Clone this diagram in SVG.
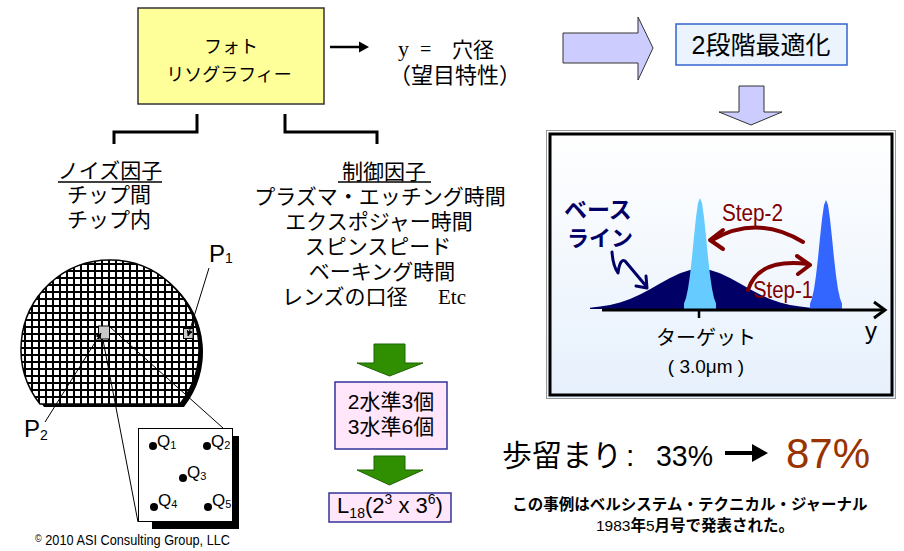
<svg xmlns="http://www.w3.org/2000/svg" width="904" height="551" viewBox="0 0 904 551">
  <style>
    .jp { font-family: "Liberation Sans", "Noto Sans CJK JP", sans-serif; fill: #000; }
    .nar { font-family: "Liberation Sans Narrow", "Liberation Sans", "Noto Sans CJK JP", sans-serif; fill: #000; }
    .ser { font-family: "Liberation Serif", "Noto Sans CJK JP", serif; fill: #000; }
    .mid { text-anchor: middle; }
    .line { stroke: #000; fill: none; }
    .purple { fill: #ccccff; stroke: #333; stroke-width: 1; }
    .green { fill: #2f8f00; stroke: #1f6400; stroke-width: 1; }
    .pink { fill: #ffe6fb; stroke: #333399; stroke-width: 1.5; }
    .dot { fill: #000; }
    .step { stroke: #800000; stroke-width: 4; fill: none; stroke-linecap: round; stroke-linejoin: round; }
  </style>
  <defs>
    <linearGradient id="panelFill" x1="0" y1="0" x2="0" y2="1">
      <stop offset="0" stop-color="#ffffff"/>
      <stop offset="1" stop-color="#e6f0fc"/>
    </linearGradient>
    <marker id="tipSmall" viewBox="0 0 10 10" refX="9" refY="5" markerWidth="6" markerHeight="6" orient="auto" markerUnits="userSpaceOnUse">
      <path d="M0,0 L10,5 L0,10 Z" fill="#000"/>
    </marker>
    <path id="waferShape" d="M 40 404 A 89 89 0 1 1 180 404 Z"/>
    <clipPath id="waferClip"><use href="#waferShape"/></clipPath>
  </defs>

  <rect width="904" height="551" fill="#fff"/>

  <!-- process node -->
  <g id="photolitho">
    <rect x="138" y="8" width="186" height="96" fill="#ffff99" stroke="#333" stroke-width="1.5"/>
    <text class="jp mid" x="231" y="53" font-size="18">フォト</text>
    <text class="jp mid" x="229" y="81" font-size="18">リソグラフィー</text>
  </g>

  <!-- response -->
  <g id="response">
    <text class="ser" x="398" y="56" font-size="22">y</text>
    <text class="ser" x="420" y="56" font-size="20">=</text>
    <text class="jp" x="452" y="57" font-size="21">穴径</text>
    <text class="jp" x="389" y="83" font-size="22">（望目特性）</text>
  </g>

  <!-- two-step optimisation -->
  <g id="twoStep">
    <rect x="676" y="24" width="171" height="41" fill="#eaf3fe" stroke="#3366cc" stroke-width="1.5"/>
    <text class="jp mid" x="761" y="54" font-size="25">2段階最適化</text>
  </g>

  <!-- noise factors -->
  <g id="noise">
    <text class="jp mid" x="110" y="178" font-size="21">ノイズ因子</text>
    <line class="line" x1="58" y1="182" x2="162" y2="182" stroke-width="1.5"/>
    <text class="jp mid" x="109" y="202" font-size="21">チップ間</text>
    <text class="jp mid" x="109" y="227" font-size="21">チップ内</text>
  </g>

  <!-- control factors -->
  <g id="control">
    <text class="jp mid" x="384" y="179" font-size="21">制御因子</text>
    <line class="line" x1="338" y1="182" x2="431" y2="182" stroke-width="1.5"/>
    <text class="jp mid" x="380" y="204" font-size="21">プラズマ・エッチング時間</text>
    <text class="jp mid" x="379" y="229" font-size="21">エクスポジャー時間</text>
    <text class="jp mid" x="378" y="254" font-size="21">スピンスピード</text>
    <text class="jp mid" x="382" y="279" font-size="21">ベーキング時間</text>
    <text class="jp" x="282" y="304" font-size="21">レンズの口径</text>
    <text class="ser" x="438" y="304" font-size="21">Etc</text>
  </g>

  <!-- levels -->
  <g id="levels">
    <rect class="pink" x="335" y="382" width="112" height="67"/>
    <text class="jp mid" x="391" y="409" font-size="21">2水準3個</text>
    <text class="jp mid" x="391" y="434" font-size="21">3水準6個</text>
  </g>

  <!-- orthogonal array -->
  <g id="array">
    <rect class="pink" x="329" y="493" width="122" height="29"/>
    <text class="nar mid" x="390" y="513" font-size="22">L<tspan font-size="14" dy="5">18</tspan><tspan dy="-5">(2</tspan><tspan font-size="14" dy="-9">3</tspan><tspan dy="9"> x 3</tspan><tspan font-size="14" dy="-9">6</tspan><tspan dy="9">)</tspan></text>
  </g>

  <!-- connectors -->
  <g id="connectors">
    <line class="line" x1="330" y1="47" x2="362" y2="47" stroke-width="2.5"/>
    <path d="M369,47 L359,41.5 L359,52.5 Z" fill="#000"/>
    <path class="line" d="M114,144 V132 H197 V114" stroke-width="3"/>
    <path class="line" d="M285,114 V132 H377 V144" stroke-width="3"/>
    <path class="purple" d="M563,33 H638 V17 L653,48 L638,80 V63 H563 Z"/>
    <path class="purple" d="M739,86 H764 V112 H782 L751,125 L719,112 H739 Z"/>
    <path class="green" d="M374,344 H405 V363 H423 L389.5,376 L357,363 H374 Z"/>
    <path class="green" d="M374,456 H405 V470 H423 L389.5,485 L357,470 H374 Z"/>
  </g>

  <!-- wafer -->
  <g id="wafer">
    <use href="#waferShape" transform="translate(4,3)" fill="#000"/>
    <use href="#waferShape" fill="#fff"/>
    <g clip-path="url(#waferClip)" stroke="#000" stroke-width="2" shape-rendering="crispEdges">
      <path d="M25,255V410M32,255V410M39,255V410M46,255V410M53,255V410M60,255V410M67,255V410M74,255V410M81,255V410M88,255V410M95,255V410M102,255V410M109,255V410M116,255V410M123,255V410M130,255V410M137,255V410M144,255V410M151,255V410M158,255V410M165,255V410M172,255V410M179,255V410M186,255V410M193,255V410M200,255V410"/>
      <path d="M15,264H205M15,271H205M15,278H205M15,285H205M15,292H205M15,299H205M15,306H205M15,313H205M15,320H205M15,327H205M15,334H205M15,341H205M15,348H205M15,355H205M15,362H205M15,369H205M15,376H205M15,383H205M15,390H205M15,397H205"/>
    </g>
    <use href="#waferShape" fill="none" stroke="#000" stroke-width="1.5"/>
    <rect x="98.5" y="326" width="11" height="13" fill="#c8c8c8" stroke="#000" stroke-width="1"/>
    <rect x="183.5" y="328.5" width="9.5" height="10" fill="#c8c8c8" stroke="#000" stroke-width="1"/>
    <line class="line" x1="209" y1="268" x2="188" y2="336" stroke-width="1" marker-end="url(#tipSmall)"/>
    <line class="line" x1="45" y1="422" x2="101" y2="333" stroke-width="1" marker-end="url(#tipSmall)"/>
    <line class="line" x1="110" y1="327" x2="223" y2="428" stroke-width="1"/>
    <line class="line" x1="103" y1="340" x2="138" y2="522" stroke-width="1"/>
    <text class="nar" x="209" y="262" font-size="24">P<tspan font-size="14" dy="1">1</tspan></text>
    <text class="nar" x="24" y="437" font-size="24">P<tspan font-size="14" dy="3">2</tspan></text>
  </g>

  <!-- magnified chip -->
  <g id="chip">
    <rect x="152" y="436" width="87" height="93" fill="#000"/>
    <rect x="138.5" y="428.5" width="94" height="93" fill="#fff" stroke="#000" stroke-width="1"/>
    <circle class="dot" cx="153" cy="446" r="4"/>
    <circle class="dot" cx="207" cy="446" r="4"/>
    <circle class="dot" cx="183" cy="478" r="4"/>
    <circle class="dot" cx="154" cy="507" r="4"/>
    <circle class="dot" cx="208" cy="507" r="4"/>
    <text class="nar" x="157" y="447" font-size="17">Q<tspan font-size="11" dy="2">1</tspan></text>
    <text class="nar" x="211" y="447" font-size="17">Q<tspan font-size="11" dy="2">2</tspan></text>
    <text class="nar" x="187" y="478" font-size="17">Q<tspan font-size="11" dy="2">3</tspan></text>
    <text class="nar" x="158" y="506" font-size="17">Q<tspan font-size="11" dy="2">4</tspan></text>
    <text class="nar" x="212" y="506" font-size="17">Q<tspan font-size="11" dy="2">5</tspan></text>
  </g>

  <text class="nar" x="35" y="545" font-size="14" textLength="195" lengthAdjust="spacingAndGlyphs"><tspan font-size="10" dy="-3">©</tspan><tspan dy="3"> 2010 ASI Consulting Group, LLC</tspan></text>

  <!-- distribution panel -->
  <g id="panel">
    <rect x="546.5" y="130.5" width="349" height="268" fill="url(#panelFill)" stroke="#999" stroke-width="1"/>
    <rect x="550" y="134" width="342" height="261" fill="none" stroke="#000" stroke-width="3"/>
    <polygon fill="#000066" points="590,309 590,307.7 600,306.6 610,305 620,302.5 630,299 640,294.6 650,289.3 660,283.6 670,278 680,273.3 690,270.1 700,269 710,270.1 720,273.3 730,278 740,283.6 750,289.3 760,294.6 770,299 780,302.5 790,305 800,306.6 810,307.7 810,309"/>
    <polygon fill="#66ccff" points="684,309 684,303.6 686,298.1 688,288.8 690,275 692,256.9 694,236.5 696,217.2 698,203.1 700,198 702,203.1 704,217.2 706,236.5 708,256.9 710,275 712,288.8 714,298.1 716,303.6 716,309"/>
    <polygon fill="#3366ff" points="810,309 810,303.8 812,298.3 814,289.2 816,275.6 818,257.9 820,237.8 822,218.9 824,205 826,200 828,205 830,218.9 832,237.8 834,257.9 836,275.6 838,289.2 840,298.3 842,303.8 842,309"/>
    <line class="line" x1="602" y1="310" x2="884" y2="310" stroke-width="3"/>
    <path class="line" d="M874,302 L885,310 L874,318" stroke-width="3"/>
    <line class="line" x1="699" y1="310" x2="699" y2="318" stroke-width="2.5"/>
    <text class="nar" x="865" y="339" font-size="24">y</text>
    <text class="jp mid" x="706" y="345" font-size="20">ターゲット</text>
    <text class="jp mid" x="706" y="373" font-size="19">( 3.0μm )</text>
    <text class="jp" x="564" y="218" font-size="23" font-weight="bold" style="fill:#000066">ベース</text>
    <text class="jp" x="567" y="246" font-size="22" font-weight="bold" style="fill:#000066">ライン</text>
    <path d="M612,252 Q613,266 618,273 Q620,258 625,261 L646,286" fill="none" stroke="#000066" stroke-width="3" stroke-linejoin="round" stroke-linecap="round"/>
    <path d="M636,286 L647,288 L646,276" fill="none" stroke="#000066" stroke-width="3" stroke-linejoin="round" stroke-linecap="round"/>
    <path class="step" d="M803,242 Q757,214 712,240"/>
    <path class="step" d="M723,230 L710,240 L723,249"/>
    <path class="step" d="M748,290 Q758,258 808,264"/>
    <path class="step" d="M797,256 L810,265 L798,274"/>
    <text class="nar" x="722" y="221" font-size="23" textLength="61" lengthAdjust="spacingAndGlyphs" style="fill:#800000">Step-2</text>
    <text class="nar" x="753" y="298" font-size="23" textLength="60" lengthAdjust="spacingAndGlyphs" style="fill:#800000">Step-1</text>
  </g>

  <!-- yield result -->
  <g id="yield">
    <text class="jp" x="502" y="466" font-size="30">歩留まり</text>
    <text class="nar" x="626" y="466" font-size="30">:</text>
    <text class="nar" x="656" y="466" font-size="30" textLength="57" lengthAdjust="spacingAndGlyphs">33%</text>
    <line class="line" x1="725" y1="453" x2="756" y2="453" stroke-width="4"/>
    <path d="M768,453 L752,444 L752,462 Z" fill="#000"/>
    <text class="nar" x="786" y="468" font-size="42" style="fill:#993300">87%</text>
  </g>

  <!-- source note -->
  <g id="note">
    <text class="jp mid" x="690" y="510" font-size="15.5" font-weight="bold">この事例はベルシステム・テクニカル・ジャーナル</text>
    <text class="jp mid" x="695" y="531" font-size="15.5" font-weight="bold"><tspan class="nar" font-weight="normal">1983</tspan>年<tspan class="nar" font-weight="normal">5</tspan>月号で発表された。</text>
  </g>
</svg>
